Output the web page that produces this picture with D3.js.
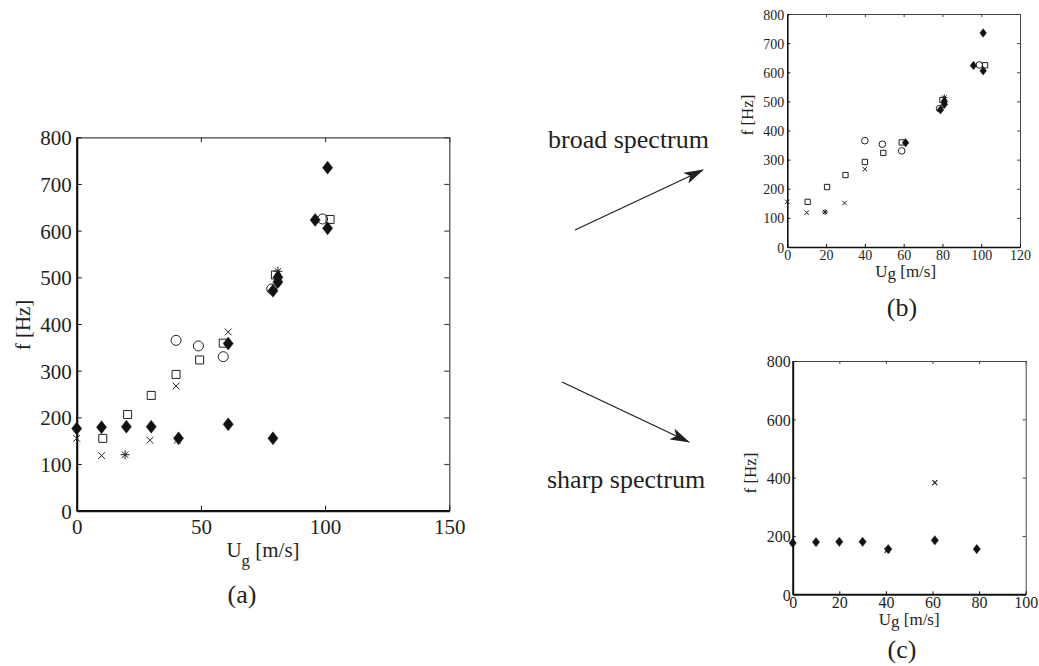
<!DOCTYPE html>
<html>
<head>
<meta charset="utf-8">
<script src="https://cdn.jsdelivr.net/npm/d3@7/dist/d3.min.js"></script>
<style>
  body { margin: 0; background: #fff; }
  svg text { font-family: "Liberation Serif", "Times New Roman", serif !important; fill: #231f20; }
</style>
</head>
<body>
<script>
// values: [Ug m/s, f Hz]
var broadDiamond = [[61, 358], [79, 471], [81, 490], [81, 500], [96, 623], [101, 735], [101, 605]];
var broadCircle = [[40, 365], [49, 353], [59, 330], [78.5, 475], [99, 625]];
var broadSquare = [[10.5, 155], [20.5, 206], [30, 247], [40, 292], [49.5, 323], [59, 359], [80, 505], [102, 624]];
var broadCross = [[0, 155], [10, 118], [29.5, 151], [40, 267]];
var broadStar = [[19.5, 120], [81, 513]];
var sharpDiamond = [[0, 176], [10, 179], [20, 180], [30, 180], [41, 155], [61, 185], [79, 155]];
var sharpCross = [[40.5, 151], [61, 383]];

var ticksXa = [0, 50, 100, 150];
var ticksXb = [0, 20, 40, 60, 80, 100, 120];
var ticksXc = [0, 20, 40, 60, 80, 100];
var ticksY = [0, 100, 200, 300, 400, 500, 600, 700, 800];
var ticksYc = [0, 200, 400, 600, 800];

var serif = "Liberation Serif";

var svg = d3.select("body").append("svg")
  .attr("width", 1039)
  .attr("height", 666)
  .attr("font-family", serif);

svg.append("defs").append("marker")
  .attr("id", "head")
  .attr("viewBox", "0 0 20 12")
  .attr("refX", 19).attr("refY", 6)
  .attr("markerWidth", 20).attr("markerHeight", 12)
  .attr("markerUnits", "userSpaceOnUse")
  .attr("orient", "auto")
  .append("path")
  .attr("d", "M0,0 L20,6 L0,12 L5,6 Z")
  .attr("fill", "#231f20");

function markerPath(type, s) { // s = half size
  if (type == "diamond") {
    var w = s * 0.78;
    return "M0," + (-s) + "L" + w + ",0L0," + s + "L" + (-w) + ",0Z";
  }
  if (type == "square") return "M" + (-s) + "," + (-s) + "h" + 2 * s + "v" + 2 * s + "h" + (-2 * s) + "Z";
  if (type == "cross") return "M" + (-s) + "," + (-s) + "L" + s + "," + s + "M" + (-s) + "," + s + "L" + s + "," + (-s);
  if (type == "star") {
    var d = s * 0.72;
    return "M0," + (-s) + "V" + s + "M" + (-s) + ",0H" + s +
      "M" + (-d) + "," + (-d) + "L" + d + "," + d + "M" + (-d) + "," + d + "L" + d + "," + (-d);
  }
  return "";
}

function drawPanel(p) {
  var x = d3.scaleLinear().domain([0, p.xMax]).range([p.left, p.right]);
  var y = d3.scaleLinear().domain([0, 800]).range([p.bottom, p.top]);
  var g = svg.append("g").attr("font-family", serif);

  // top & right frame (thin, no labels)
  g.append("g").attr("transform", "translate(0," + p.top + ")")
    .call(d3.axisTop(x).tickValues(p.xTicks).tickSize(-p.tick).tickSizeOuter(0).tickFormat(""))
    .call(function (a) { a.selectAll("path,line").attr("stroke", "#444").attr("stroke-width", p.thin); });
  g.append("g").attr("transform", "translate(" + p.right + ",0)")
    .call(d3.axisRight(y).tickValues(p.yTicks).tickSize(-p.tick).tickSizeOuter(0).tickFormat(""))
    .call(function (a) { a.selectAll("path,line").attr("stroke", "#444").attr("stroke-width", p.thin); });

  var xa = g.append("g").attr("transform", "translate(0," + p.bottom + ")")
    .call(d3.axisBottom(x).tickValues(p.xTicks).tickSize(-p.tick).tickSizeOuter(0).tickPadding(p.xPad));
  var ya = g.append("g").attr("transform", "translate(" + p.left + ",0)")
    .call(d3.axisLeft(y).tickValues(p.yTicks).tickSize(-p.tick).tickSizeOuter(0).tickPadding(p.yPad));
  [xa, ya].forEach(function (a) {
    a.attr("font-family", serif).attr("font-size", p.font);
    a.select(".domain").attr("stroke", "#111").attr("stroke-width", p.thick);
    a.selectAll(".tick line").attr("stroke", "#111").attr("stroke-width", 1);
    a.selectAll("text").attr("font-size", p.font).attr("font-family", serif).attr("fill", "#231f20");
  });
  ya.selectAll("text").attr("dy", "0.36em");

  // axis titles
  var xl = g.append("text")
    .attr("x", (p.left + p.right) / 2 + p.xLabelShift)
    .attr("y", p.xLabelY)
    .attr("text-anchor", "middle")
    .attr("font-size", p.labelFont);
  xl.append("tspan").text("U");
  xl.append("tspan").attr("font-size", p.labelFont * p.subScale).attr("dy", p.subDy).text("g");
  xl.append("tspan").attr("dy", -p.subDy).text(" [m/s]");

  g.append("text")
    .attr("transform", "translate(" + p.yLabelX + "," + p.yLabelY + ") rotate(-90)")
    .attr("text-anchor", "middle")
    .attr("font-size", p.labelFont)
    .text("f [Hz]");

  g.append("text")
    .attr("x", p.capX).attr("y", p.capY)
    .attr("text-anchor", "middle")
    .attr("font-size", 26)
    .text(p.caption);

  // markers
  p.sets.forEach(function (set) {
    var filled = set.type == "diamond";
    var m = set.type == "circle" ? p.ms * 1.0 : set.type == "diamond" ? p.ms * 1.3 : set.type == "square" ? p.ms * 0.8 : set.type == "cross" ? p.ms * 0.68 : p.ms * 0.9;
    if (set.type == "circle") {
      g.selectAll(null).data(set.data).enter().append("circle")
        .attr("cx", function (d) { return x(d[0]); })
        .attr("cy", function (d) { return y(d[1]); })
        .attr("r", m)
        .attr("fill", "none").attr("stroke", "#231f20").attr("stroke-width", p.mw);
    } else {
      g.selectAll(null).data(set.data).enter().append("path")
        .attr("transform", function (d) { return "translate(" + x(d[0]) + "," + y(d[1]) + ")"; })
        .attr("d", markerPath(set.type, m))
        .attr("fill", filled ? "#111" : "none")
        .attr("stroke", "#231f20")
        .attr("stroke-width", filled ? 0.5 : p.mw);
    }
  });
}

var broadSets = [
  { type: "circle", data: broadCircle },
  { type: "square", data: broadSquare },
  { type: "cross", data: broadCross },
  { type: "star", data: broadStar },
  { type: "diamond", data: broadDiamond }
];
var sharpSets = [
  { type: "cross", data: sharpCross },
  { type: "diamond", data: sharpDiamond }
];

drawPanel({
  left: 76.7, right: 449.3, top: 137.3, bottom: 510.7, xMax: 150,
  xTicks: ticksXa, yTicks: ticksY, tick: 5, font: 21, labelFont: 21, subScale: 0.8, subDy: 9,
  xPad: 8, yPad: 5, thick: 2.2, thin: 1.2,
  xLabelY: 557, xLabelShift: 0, yLabelX: 30, yLabelY: 325,
  capX: 242, capY: 603, caption: "(a)", ms: 5, mw: 1,
  sets: broadSets.concat(sharpSets)
});

drawPanel({
  left: 787.3, right: 1020, top: 14, bottom: 247, xMax: 120,
  xTicks: ticksXb, yTicks: ticksY, tick: 3, font: 14, labelFont: 17, subScale: 1, subDy: 2,
  xPad: 3, yPad: 3, thick: 1.6, thin: 1,
  xLabelY: 276.5, xLabelShift: 2, yLabelX: 753, yLabelY: 115,
  capX: 902, capY: 316, caption: "(b)", ms: 3.3, mw: 1,
  sets: broadSets
});

drawPanel({
  left: 792.7, right: 1025.7, top: 361, bottom: 594.3, xMax: 100,
  xTicks: ticksXc, yTicks: ticksYc, tick: 3, font: 16, labelFont: 17, subScale: 1, subDy: 2,
  xPad: 2, yPad: 2, thick: 2, thin: 1,
  xLabelY: 625, xLabelShift: 0, yLabelX: 756, yLabelY: 473,
  capX: 902, capY: 658, caption: "(c)", ms: 3.6, mw: 1.2,
  sets: sharpSets
});

// annotations
svg.append("text").attr("x", 548).attr("y", 148).attr("font-size", 26).text("broad spectrum");
svg.append("text").attr("x", 547).attr("y", 488).attr("font-size", 26).text("sharp spectrum");

svg.append("line")
  .attr("x1", 575).attr("y1", 230).attr("x2", 703).attr("y2", 170)
  .attr("stroke", "#231f20").attr("stroke-width", 1.3)
  .attr("marker-end", "url(#head)");
svg.append("line")
  .attr("x1", 562).attr("y1", 382).attr("x2", 689).attr("y2", 442)
  .attr("stroke", "#231f20").attr("stroke-width", 1.3)
  .attr("marker-end", "url(#head)");
</script>
</body>
</html>
